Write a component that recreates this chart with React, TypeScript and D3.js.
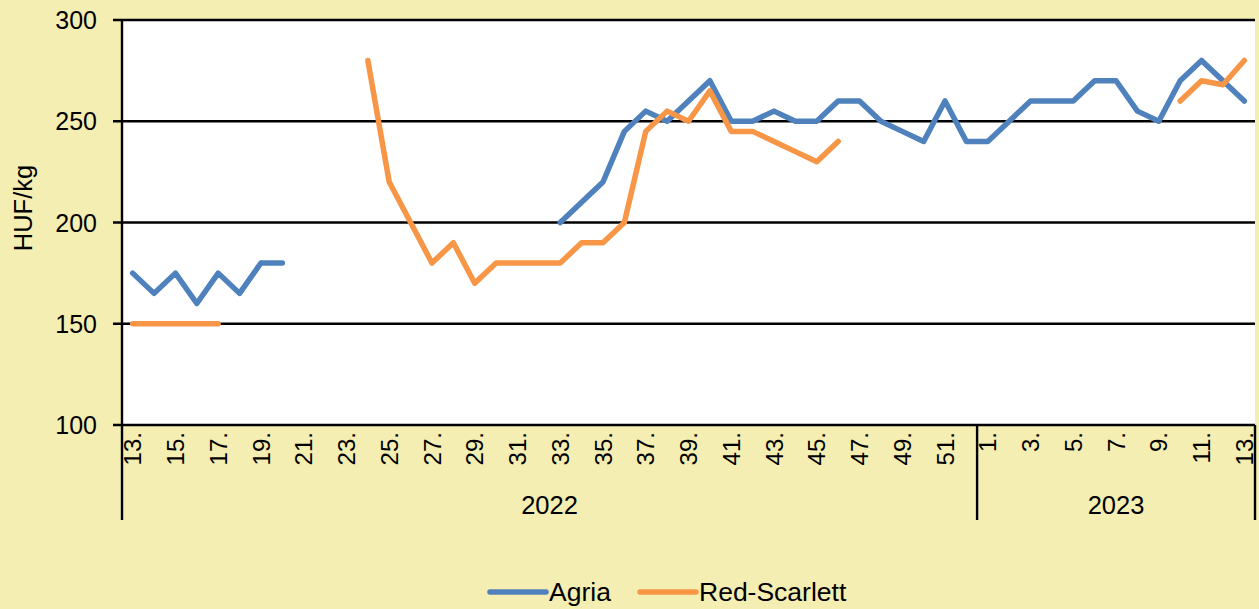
import React from "react";
import * as d3 from "d3";

// weeks 13-52 of 2022, then 1-13 of 2023
const weeks2022 = d3.range(13, 53);
const weeks2023 = d3.range(1, 14);
const years = ["2022", "2023"];

const agria: (number | null)[] = [
  // 2022: 13..52
  175, 165, 175, 160, 175, 165, 180, 180, null, null,
  null, null, null, null, null, null, null, null, null, null,
  200, 210, 220, 245, 255, 250, 260, 270, 250, 250,
  255, 250, 250, 260, 260, 250, 245, 240, 260, 240,
  // 2023: 1..13
  240, 250, 260, 260, 260, 270, 270, 255, 250, 270, 280, 270, 260,
];

const redScarlett: (number | null)[] = [
  150, 150, 150, 150, 150, null, null, null, null, null,
  null, 280, 220, 200, 180, 190, 170, 180, 180, 180,
  180, 190, 190, 200, 245, 255, 250, 265, 245, 245,
  240, 235, 230, 240, null, null, null, null, null, null,
  null, null, null, null, null, null, null, null, null, 260, 270, 268, 280,
];

const yTicks = [100, 150, 200, 250, 300];

const seriesNames = ["Agria", "Red-Scarlett"];
const colors = ["#4F81BD", "#F79646"];

const W = 1259;
const H = 609;
const left = 122;
const right = 1255;
const top = 20;
const bottom = 425;
const font = "Arial, 'Liberation Sans', sans-serif";

const App = () => {
  const cats = [
    ...weeks2022.map((w) => `2022-${w}`),
    ...weeks2023.map((w) => `2023-${w}`),
  ];
  const labels = [...weeks2022, ...weeks2023].map((w) => `${w}.`);

  const x = d3.scaleBand().domain(cats).range([left, right]);
  const cx = (i: number) => (x(cats[i]) as number) + x.bandwidth() / 2;
  const y = d3.scaleLinear().domain([100, 300]).range([bottom, top]);

  const line = d3
    .line<number | null>()
    .defined((d) => d != null)
    .x((d, i) => cx(i))
    .y((d) => y(d as number));

  const yearSplit = x(`2023-1`) as number;
  const yearCenters = [(left + yearSplit) / 2, (yearSplit + right) / 2];

  return (
    <svg
      width={W}
      height={H}
      style={{ position: "absolute", left: 0, top: 0 }}
      fontFamily={font}
    >
      <rect width={W} height={H} fill="#F4EEB2" />
      <rect x={left} y={top} width={right - left} height={bottom - top} fill="#fff" />

      {
        // gridlines and y ticks
        yTicks.map((t) => (
          <g key={t}>
            <line x1={113} x2={right} y1={y(t)} y2={y(t)} stroke="#000" strokeWidth={2.4} />
            <text x={97} y={y(t)} dy="0.36em" textAnchor="end" fontSize={25}>
              {t}
            </text>
          </g>
        ))
      }
      <line x1={left} x2={left} y1={top} y2={520} stroke="#000" strokeWidth={2.4} />
      <line x1={yearSplit} x2={yearSplit} y1={bottom} y2={520} stroke="#000" strokeWidth={2.4} />
      <line x1={right} x2={right} y1={bottom} y2={520} stroke="#000" strokeWidth={2.4} />

      {
        // week labels, every other one
        labels.map((l, i) =>
          i % 2 === 0 ? (
            <text
              key={i}
              transform={`translate(${cx(i)},432) rotate(-90)`}
              textAnchor="end"
              dy="0.36em"
              fontSize={24}
            >
              {l}
            </text>
          ) : null
        )
      }
      {years.map((yr, i) => (
        <text key={yr} x={yearCenters[i]} y={514} textAnchor="middle" fontSize={25.5}>
          {yr}
        </text>
      ))}

      <text transform="translate(32,208) rotate(-90)" textAnchor="middle" fontSize={25.5}>
        HUF/kg
      </text>

      {[agria, redScarlett].map((s, k) => (
        <path
          key={k}
          d={line(s) as string}
          fill="none"
          stroke={colors[k]}
          strokeWidth={5.5}
          strokeLinejoin="round"
          strokeLinecap="round"
        />
      ))}

      {
        // legend
        seriesNames.map((n, k) => {
          const lx = k === 0 ? 490 : 640;
          return (
            <g key={n}>
              <line x1={lx} x2={lx + 56} y1={592} y2={592} stroke={colors[k]} strokeWidth={5.5} strokeLinecap="round" />
              <text x={lx + 59} y={601} fontSize={26.5}>
                {n}
              </text>
            </g>
          );
        })
      }
    </svg>
  );
};

export default App;
